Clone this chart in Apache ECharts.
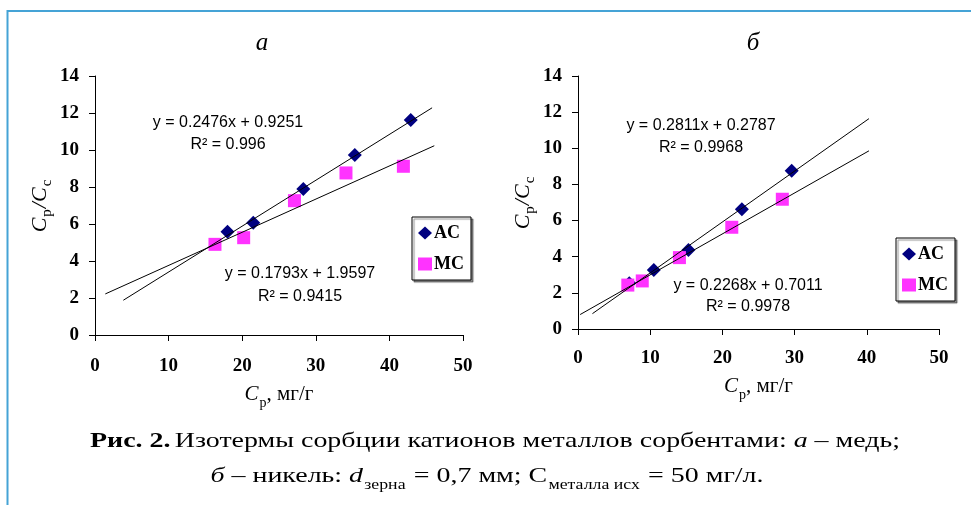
<!DOCTYPE html>
<html>
<head>
<meta charset="utf-8">
<script src="https://cdn.jsdelivr.net/npm/echarts/dist/echarts.min.js"></script>
<style>
  html, body { margin: 0; padding: 0; background: #fff; }
  #chartHome { width: 971px; height: 505px; }
</style>
</head>
<body>
<div id="chartHome"></div>
<script>
// а - медь
const cuAcX = [18.0, 21.5, 28.3, 35.3, 42.9]
const cuAcY = [5.58, 6.07, 7.89, 9.73, 11.62]
const cuMcX = [16.3, 20.2, 27.1, 34.1, 41.9]
const cuMcY = [4.9, 5.26, 7.26, 8.76, 9.12]
// линии тренда (концы)
const cuAcTrend = [[3.85, 1.88], [45.8, 12.28]]
const cuMcTrend = [[1.4, 2.22], [46.1, 10.23]]

// б - никель
const niAcX = [7.1, 10.5, 15.3, 22.7, 29.6]
const niAcY = [2.53, 3.26, 4.37, 6.62, 8.76]
const niMcX = [6.9, 8.9, 14.05, 21.3, 28.3]
const niMcY = [2.43, 2.66, 3.95, 5.63, 7.18]
const niAcTrend = [[2.0, 0.85], [40.3, 11.64]]
const niMcTrend = [[0.3, 0.8], [40.3, 9.86]]

const xTicks = { min: 0, max: 50, interval: 10 }
const yTicks = { min: 0, max: 14, interval: 2 }

const cuEq = ['y = 0.2476x + 0.9251', 'R² = 0.996', 'y = 0.1793x + 1.9597', 'R² = 0.9415']
const niEq = ['y = 0.2811x + 0.2787', 'R² = 0.9968', 'y = 0.2268x + 0.7011', 'R² = 0.9978']

const serif = '"Liberation Serif", "Times New Roman", serif'
const sans = '"Liberation Sans", Arial, sans-serif'
const AC_COLOR = '#000080'
const MC_COLOR = '#ff33ff'

function pairs(xs, ys) {
  return xs.map((x, i) => [x, ys[i]])
}

function xAxisOf(idx, gap, margin) {
  return {
    gridIndex: idx,
    type: 'value',
    min: xTicks.min, max: xTicks.max, interval: xTicks.interval,
    axisLine: { show: true, lineStyle: { color: '#000', width: 1 } },
    axisTick: { show: true, inside: false, length: 6, lineStyle: { color: '#000' } },
    splitLine: { show: false },
    axisLabel: { margin: margin, color: '#000', fontFamily: serif, fontWeight: 'bold', fontSize: 19 },
    name: '{i|C}{s|р}{t|, мг/г}',
    nameLocation: 'middle',
    nameGap: gap,
    nameTextStyle: {
      color: '#000',
      rich: {
        i: { fontFamily: serif, fontStyle: 'italic', fontSize: 21, lineHeight: 22, verticalAlign: 'top', color: '#000' },
        s: { fontFamily: serif, fontSize: 14, lineHeight: 14, padding: [12, 0, 0, 1], verticalAlign: 'top', color: '#000' },
        t: { fontFamily: serif, fontSize: 21, lineHeight: 22, verticalAlign: 'top', color: '#000' }
      }
    }
  }
}

function yAxisOf(idx) {
  return {
    gridIndex: idx,
    type: 'value',
    min: yTicks.min, max: yTicks.max, interval: yTicks.interval,
    axisLine: { show: true, lineStyle: { color: '#000', width: 1 } },
    axisTick: { show: true, inside: false, length: 6, lineStyle: { color: '#000' } },
    splitLine: { show: false },
    axisLabel: { margin: 16, color: '#000', fontFamily: serif, fontWeight: 'bold', fontSize: 19 },
    name: '{i|C}{s|р}{i|/C}{s|с}',
    nameLocation: 'middle',
    nameRotate: 90,
    nameGap: 44,
    nameTextStyle: {
      color: '#000',
      rich: {
        i: { fontFamily: serif, fontStyle: 'italic', fontSize: 22, lineHeight: 22, verticalAlign: 'top', color: '#000' },
        s: { fontFamily: serif, fontSize: 15, lineHeight: 15, padding: [11, 1, 0, 1], verticalAlign: 'top', color: '#000' }
      }
    }
  }
}

function legendOf(left, top) {
  return {
    left: left, top: top,
    orient: 'vertical',
    data: [{ name: 'AC', icon: 'diamond' }, { name: 'MC', icon: 'rect' }],
    itemWidth: 14, itemHeight: 13, itemGap: 13,
    padding: [7, 7, 7, 6],
    borderColor: '#000', borderWidth: 1,
    backgroundColor: '#fff',
    shadowColor: 'rgba(0,0,0,0.45)', shadowBlur: 1, shadowOffsetX: 2, shadowOffsetY: 2,
    selectedMode: false,
    textStyle: { color: '#000', fontFamily: serif, fontWeight: 'bold', fontSize: 18, padding: [0, 0, 0, -3] }
  }
}

function scatterOf(name, idx, data, symbol, size, color) {
  return {
    name: name, type: 'scatter',
    xAxisIndex: idx, yAxisIndex: idx,
    data: data, symbol: symbol, symbolSize: size,
    itemStyle: { color: color, opacity: 1 },
    z: 2
  }
}

function trendOf(idx, data) {
  return {
    name: 'trend' + idx, type: 'line',
    xAxisIndex: idx, yAxisIndex: idx,
    data: data, showSymbol: false, symbol: 'none',
    lineStyle: { color: '#000', width: 1 },
    z: 3, silent: true
  }
}

function eqText(x, y, text) {
  return {
    type: 'text', x: x, y: y,
    style: { text: text, fontFamily: sans, fontSize: 16, fill: '#000', align: 'center', verticalAlign: 'middle' }
  }
}

const frameColor = '#45a3d6'
// шрифт подписи в оригинале шире, растягиваем по горизонтали
const captionScale = 1.27

const option = {
  backgroundColor: '#fff',
  animation: false,
  grid: [
    { left: 95, top: 76, width: 368, height: 259 },
    { left: 578, top: 76, width: 361, height: 253 }
  ],
  xAxis: [xAxisOf(0, 49, 22), xAxisOf(1, 47, 20)],
  yAxis: [yAxisOf(0), yAxisOf(1)],
  legend: [legendOf(412, 217), legendOf(896, 238)],
  series: [
    scatterOf('AC', 0, pairs(cuAcX, cuAcY), 'diamond', 14, AC_COLOR),
    scatterOf('MC', 0, pairs(cuMcX, cuMcY), 'rect', 13, MC_COLOR),
    trendOf(0, cuAcTrend),
    trendOf(0, cuMcTrend),
    scatterOf('AC', 1, pairs(niAcX, niAcY), 'diamond', 14, AC_COLOR),
    scatterOf('MC', 1, pairs(niMcX, niMcY), 'rect', 13, MC_COLOR),
    trendOf(1, niAcTrend),
    trendOf(1, niMcTrend)
  ],
  graphic: [
    // рамка
    { type: 'line', shape: { x1: 7.5, y1: 11, x2: 971, y2: 11 }, style: { stroke: frameColor, lineWidth: 2 } },
    { type: 'line', shape: { x1: 7.5, y1: 10, x2: 7.5, y2: 505 }, style: { stroke: frameColor, lineWidth: 2 } },
    // заголовки
    { type: 'text', x: 262, y: 43, style: { text: 'а', fontFamily: serif, fontStyle: 'italic', fontSize: 25, fill: '#000', align: 'center', verticalAlign: 'middle' } },
    { type: 'text', x: 753, y: 43, style: { text: 'б', fontFamily: serif, fontStyle: 'italic', fontSize: 25, fill: '#000', align: 'center', verticalAlign: 'middle' } },
    // уравнения
    eqText(228, 123, cuEq[0]), eqText(228, 145, cuEq[1]),
    eqText(300, 274, cuEq[2]), eqText(300, 297, cuEq[3]),
    eqText(701, 126, niEq[0]), eqText(701, 148, niEq[1]),
    eqText(748, 286, niEq[2]), eqText(748, 307, niEq[3]),
    // подпись
    {
      type: 'text', x: 495, y: 441, scaleX: captionScale,
      style: {
        text: '{b|Рис. 2.} {r|Изотермы сорбции катионов металлов сорбентами: }{i|а}{r| – медь;}',
        align: 'center', verticalAlign: 'middle',
        rich: {
          b: { fontFamily: serif, fontWeight: 'bold', fontSize: 22, fill: '#000' },
          r: { fontFamily: serif, fontSize: 22, fill: '#000' },
          i: { fontFamily: serif, fontStyle: 'italic', fontSize: 22, fill: '#000' }
        }
      }
    },
    {
      type: 'text', x: 487, y: 477, scaleX: captionScale,
      style: {
        text: '{i|б}{r| – никель: }{i|d}{s|зерна}{r| = 0,7 мм; С}{s|металла исх}{r| = 50 мг/л.}',
        align: 'center', verticalAlign: 'middle',
        rich: {
          r: { fontFamily: serif, fontSize: 22, lineHeight: 24, verticalAlign: 'top', fill: '#000' },
          i: { fontFamily: serif, fontStyle: 'italic', fontSize: 22, lineHeight: 24, verticalAlign: 'top', fill: '#000' },
          s: { fontFamily: serif, fontSize: 14, lineHeight: 14, padding: [13, 1, 0, 1], verticalAlign: 'top', fill: '#000' }
        }
      }
    }
  ]
}

const charts = echarts.init(document.getElementById('chartHome'), null, { renderer: 'canvas' })
charts.setOption(option)
</script>
</body>
</html>
